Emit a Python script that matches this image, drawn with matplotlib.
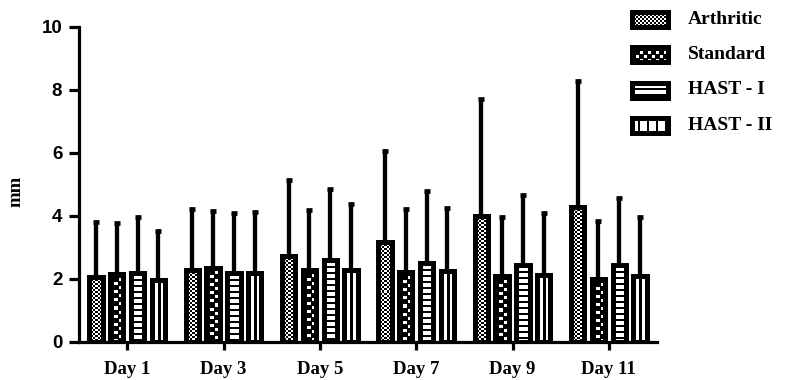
import numpy as np
import matplotlib
matplotlib.use("Agg")
import matplotlib.pyplot as plt
from matplotlib.patches import Rectangle

# ---------------- data ----------------
days = ["Day 1", "Day 3", "Day 5", "Day 7", "Day 9", "Day 11"]
series = ["Arthritic", "Standard", "HAST - I", "HAST - II"]
arthritic = [2.05, 2.27, 2.73, 3.15, 4.00, 4.27]
standard = [2.14, 2.35, 2.27, 2.20, 2.07, 1.99]
hast1 = [2.19, 2.19, 2.59, 2.50, 2.44, 2.44]
hast2 = [1.95, 2.19, 2.27, 2.23, 2.13, 2.10]
arthritic_top = [3.80, 4.21, 5.12, 6.05, 7.69, 8.27]
standard_top = [3.78, 4.14, 4.17, 4.20, 3.96, 3.83]
hast1_top = [3.97, 4.09, 4.86, 4.80, 4.65, 4.57]
hast2_top = [3.53, 4.12, 4.36, 4.25, 4.08, 3.97]
yticks = [0, 2, 4, 6, 8, 10]

means = [arthritic, standard, hast1, hast2]
tops = [arthritic_top, standard_top, hast1_top, hast2_top]

# ---------------- patterns ----------------
def pat_arth(ix, iy):
    return ((ix // 2 + iy // 2) % 2).astype(float)

def pat_std(ix, iy):
    chk = (ix // 4 + iy // 4) % 2
    inner = ((ix % 4) < 3) & ((iy % 4) < 3)
    return np.where((chk == 1) & inner, 1.0, 0.0)

def pat_h1(ix, iy):
    return np.where((iy % 6) < 2, 0.0, 1.0)

def pat_h2(ix, iy):
    return np.where(((ix + 3) % 9) < 2, 0.0, 1.0)

patterns = [pat_arth, pat_std, pat_h1, pat_h2]

W, H, DPI = 799, 380, 100
fig = plt.figure(figsize=(W / DPI, H / DPI), dpi=DPI)
ax = fig.add_axes([79 / W, 1 - 341.7 / H, (657 - 79) / W, (341.7 - 26.7) / H])
ax.set_xlim(-0.5, len(days) - 0.5)
ax.set_ylim(0, 10)

EDGE_LW = 3.6
pitch = 0.215
bw = 0.138
x = np.arange(len(days))


def fill_rect(axis, rect, func):
    x0, y0 = rect.get_x(), rect.get_y()
    w, h = rect.get_width(), rect.get_height()
    p0 = axis.transData.transform((x0, y0))
    p1 = axis.transData.transform((x0 + w, y0 + h))
    nx = max(1, int(round(p1[0] - p0[0])))
    ny = max(1, int(round(p1[1] - p0[1])))
    ix, iy = np.meshgrid(np.arange(nx), np.arange(ny))
    iy = iy[::-1]  # pattern anchored at the top
    img = func(ix, iy)
    im = axis.imshow(img, extent=(x0, x0 + w, y0, y0 + h), origin="lower",
                     cmap="gray", vmin=0, vmax=1, interpolation="nearest",
                     aspect="auto", zorder=2)
    im.set_clip_path(rect)


for i, (m, t, f) in enumerate(zip(means, tops, patterns)):
    xs = x + (i - 1.5) * pitch
    m = np.array(m)
    t = np.array(t)
    ax.errorbar(xs, m, yerr=[np.zeros_like(m), t - m], fmt="none", ecolor="black",
                elinewidth=3.1, capsize=2.5, capthick=3.4, zorder=1)
    bars = ax.bar(xs, m, width=bw, facecolor="none", edgecolor="black",
                  linewidth=EDGE_LW, zorder=3)
    for r in bars:
        fill_rect(ax, r, f)

ax.set_xlim(-0.5, len(days) - 0.5)
ax.set_ylim(0, 10)

for s in ["top", "right"]:
    ax.spines[s].set_visible(False)
for s in ["left", "bottom"]:
    ax.spines[s].set_linewidth(2.3)
ax.set_yticks(yticks)
ax.set_yticklabels([str(v) for v in yticks], fontfamily="Liberation Sans",
                   fontweight="bold", fontsize=13.5)
ax.set_xticks(x)
ax.set_xticklabels(days, fontfamily="Liberation Serif", fontweight="bold",
                   fontsize=13.5)
ax.tick_params(axis="y", length=7, width=2.3, pad=5)
ax.tick_params(axis="x", length=6, width=2.3, pad=8)

fig.text(16 / W, 1 - 191 / H, "mm", rotation=90, ha="center", va="center",
         fontfamily="Liberation Serif", fontweight="bold", fontsize=13.5)

# ---------------- legend (pixel-coordinate overlay) ----------------
lax = fig.add_axes([0, 0, 1, 1])
lax.set_xlim(0, W)
lax.set_ylim(0, H)
lax.axis("off")
lax.patch.set_alpha(0)
row_y = [19.5, 54.5, 90, 125.5]
for name, f, yc in zip(series, patterns, row_y):
    yc_up = H - yc
    r = Rectangle((631.5, yc_up - 7.5), 36, 15, facecolor="none",
                  edgecolor="black", linewidth=EDGE_LW, zorder=3)
    lax.add_patch(r)
    fill_rect(lax, r, f)
    lax.text(688, yc_up, name, ha="left", va="center",
             fontfamily="Liberation Serif", fontweight="bold", fontsize=14)
lax.set_xlim(0, W)
lax.set_ylim(0, H)

fig.savefig("out.png", dpi=DPI, facecolor="white")
